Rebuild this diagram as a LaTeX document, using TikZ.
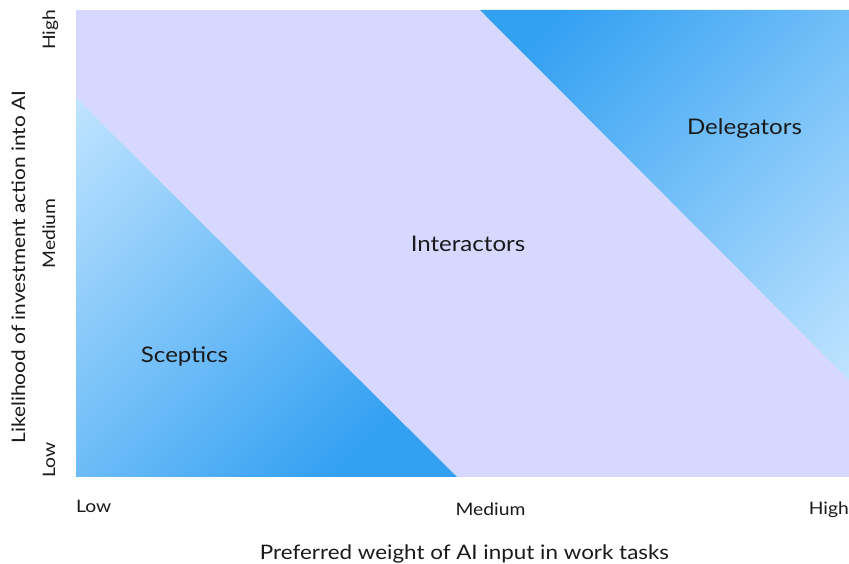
\documentclass[tikz,border=0pt]{standalone}
\usepackage{fontspec}
\setmainfont[FakeStretch=1.12]{Lato}
\definecolor{lavender}{HTML}{D7D8FF}
\definecolor{bluedark}{HTML}{33A0F2}
\definecolor{bluelight}{HTML}{C0E4FF}
\definecolor{txt}{HTML}{1A1A1A}
\tikzset{
  grouplabel/.style={inner sep=0pt, anchor=base, text=txt, font=\fontsize{21.5}{24}\selectfont},
  ticklabel/.style={inner sep=0pt, text=txt, font=\fontsize{17.2}{20}\selectfont},
  axistitle/.style={inner sep=0pt, anchor=base, text=txt, font=\fontsize{20}{23}\selectfont},
}
\begin{document}
\begin{tikzpicture}[x=1pt,y=1pt]
\useasboundingbox (0,0) rectangle (849,564);
% plot background
\fill[lavender] (76,87) rectangle (849,554);
% Sceptics triangle with gradient along hypotenuse
\begin{scope}
  \clip (76,466) -- (76,87) -- (457,87) -- cycle;
  \begin{scope}[transform canvas={shift={(76,466)},rotate=-45}]
    \shade[left color=bluelight, right color=bluedark] (0,-400) rectangle (450,400);
    \fill[bluedark] (449,-400) rectangle (600,400);
  \end{scope}
\end{scope}
% Delegators triangle
\begin{scope}
  \clip (480,554) -- (849,554) -- (849,184) -- cycle;
  \begin{scope}[transform canvas={shift={(480,554)},rotate=-45}]
    \fill[bluedark] (-100,-400) rectangle (61,400);
    \shade[left color=bluedark, right color=bluelight] (60,-400) rectangle (523,400);
  \end{scope}
\end{scope}
% group labels
\node[grouplabel] (sceptics) at (184.5,201.3) {Sceptics};
\node[grouplabel] (interactors) at (468,312.3) {Interactors};
\node[grouplabel] (delegators) at (744.5,429) {Delegators};
% x tick labels
\node[ticklabel, anchor=base west] (xlow) at (76,51.3) {Low};
\node[ticklabel, anchor=base] (xmed) at (490.5,48.3) {Medium};
\node[ticklabel, anchor=base east] (xhigh) at (849,49) {High};
% y tick labels
\node[ticklabel, anchor=base, rotate=90] (yhigh) at (55,534) {High};
\node[ticklabel, anchor=base, rotate=90] (ymed) at (55,330.5) {Medium};
\node[ticklabel, anchor=base, rotate=90] (ylow) at (55,104) {Low};
% axis titles
\node[axistitle] (xtitle) at (464.5,4) {Preferred weight of AI input in work tasks};
\node[axistitle, rotate=90, font=\fontsize{18.6}{22}\selectfont] (ytitle) at (25,297) {Likelihood of investment action into AI};
\end{tikzpicture}
\end{document}
